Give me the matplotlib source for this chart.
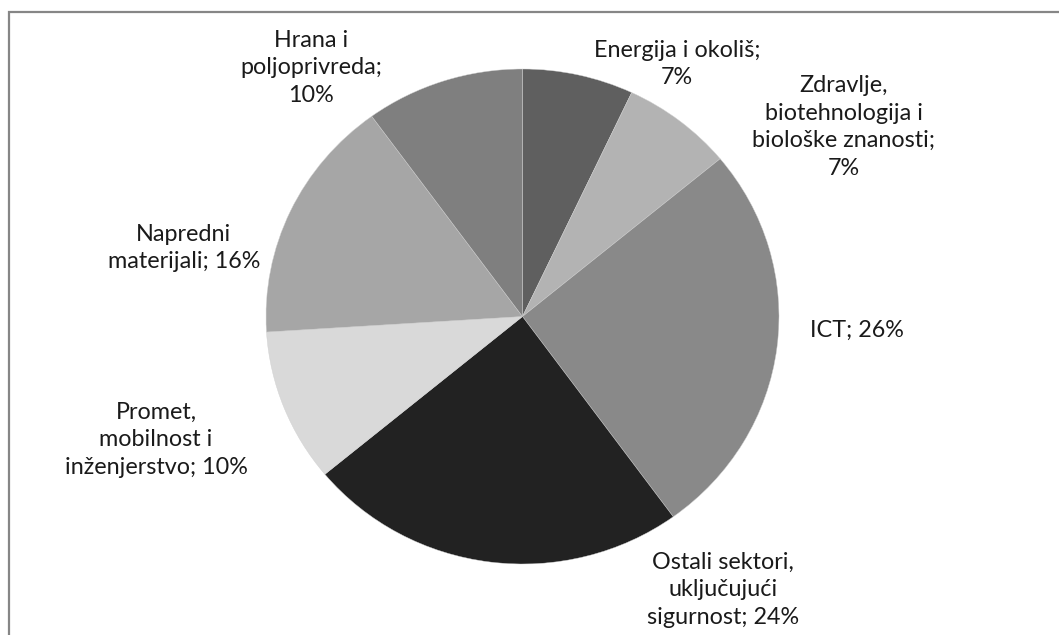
import matplotlib.pyplot as plt
from matplotlib.patches import Rectangle

W, H = 1059, 635

sectors = ['Energija i okoliš', 'Zdravlje,\nbiotehnologija i\nbiološke znanosti', 'ICT',
           'Ostali sektori,\nuključujući\nsigurnost', 'Promet,\nmobilnost i\ninženjerstvo',
           'Napredni\nmaterijali', 'Hrana i\npoljoprivreda']
shares = [7, 7, 26, 24, 10, 16, 10]
label_texts = ['Energija i okoliš;\n7%', 'Zdravlje,\nbiotehnologija i\nbiološke znanosti;\n7%',
               'ICT; 26%', 'Ostali sektori,\nuključujući\nsigurnost; 24%',
               'Promet,\nmobilnost i\ninženjerstvo; 10%', 'Napredni\nmaterijali; 16%',
               'Hrana i\npoljoprivreda;\n10%']
colors = ['#5f5f5f', '#b3b3b3', '#898989', '#222222', '#d9d9d9', '#a6a6a6', '#7f7f7f']

# label centres in pixels (x, y from top)
label_px = [(677, 64), (844, 127), (857, 330), (723, 590), (156, 440), (184, 248), (311, 68)]

fig = plt.figure(figsize=(W / 100, H / 100), dpi=100)

# pie area: x 266..779, y 69..564 (slightly squashed)
px_l, px_r, px_t, px_b = 266, 779, 69, 564
ax = fig.add_axes([px_l / W, 1 - px_b / H, (px_r - px_l) / W, (px_b - px_t) / H])
ax.pie(shares, colors=colors, startangle=90, counterclock=False,
       wedgeprops=dict(edgecolor='#d0d0d0', linewidth=0.3))
ax.set_aspect('auto')
ax.set_xlim(-1, 1)
ax.set_ylim(-1, 1)
ax.axis('off')

for txt, (x, y) in zip(label_texts, label_px):
    fig.text(x / W, 1 - y / H, txt, ha='center', va='center', fontsize=16.8,
             family='Lato', color='#1a1a1a', linespacing=1.38)

# outer frame (cut off at right and bottom)
fig.patches.append(Rectangle((9 / W, -0.1), 1.2, 1 - 12 / H + 0.1, transform=fig.transFigure,
                             fill=False, edgecolor='#868686', linewidth=1.6))

fig.savefig('out.png', dpi=100)
